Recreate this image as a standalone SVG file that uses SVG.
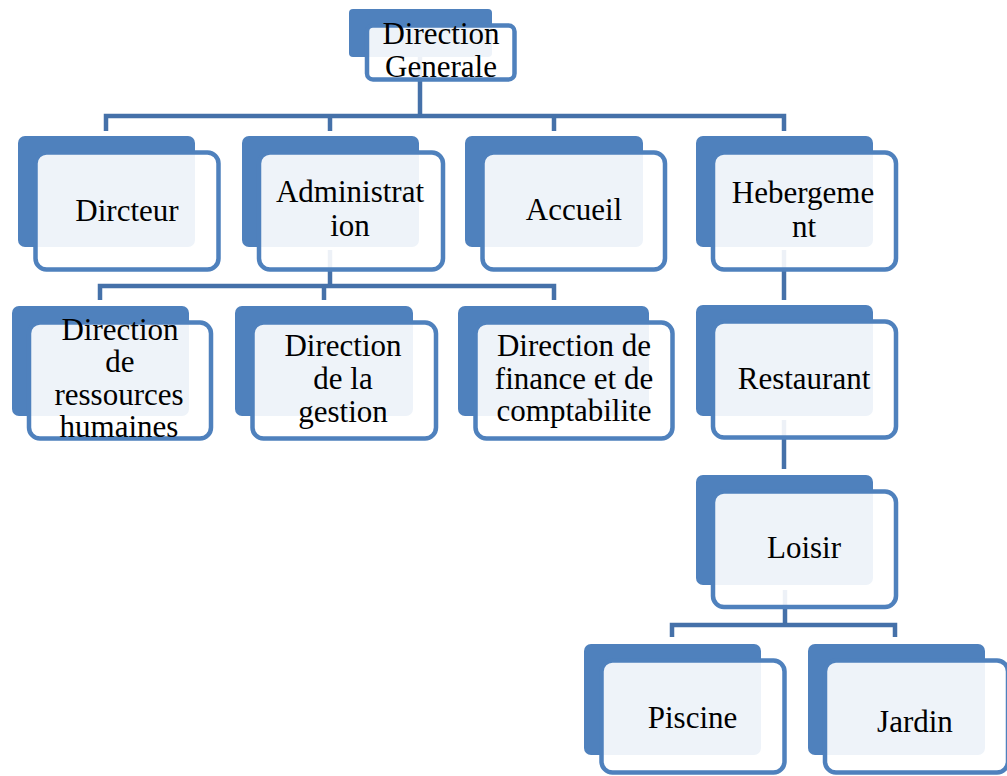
<svg xmlns="http://www.w3.org/2000/svg" width="1007" height="776" viewBox="0 0 1007 776">
<style>
.bk{fill:#4F81BD;}
.fr{fill:#FFFFFF;fill-opacity:0.9;stroke:#4F81BD;stroke-width:4.5;}
.cn{fill:none;stroke:#4571A9;stroke-width:4.5;stroke-linejoin:miter;}
.t{font-family:'Liberation Serif','DejaVu Serif',serif;font-size:31px;fill:#000;text-anchor:middle;}
</style>
<rect width="1007" height="776" fill="#FFFFFF"/>
<g id="connectors">
<path class="cn" d="M420 57 V116"/>
<path class="cn" d="M106 131 V116 H784 V131"/>
<path class="cn" d="M330 116 V131"/>
<path class="cn" d="M554 116 V131"/>
<path class="cn" d="M330 250 V286"/>
<path class="cn" d="M100 300 V286 H554 V300"/>
<path class="cn" d="M324 286 V300"/>
<path class="cn" d="M784 250 V300"/>
<path class="cn" d="M784 420 V469"/>
<path class="cn" d="M785 590 V625"/>
<path class="cn" d="M672 637 V625 H895 V637"/>
</g>
<g id="n-direction-generale">
<rect class="bk" x="349" y="9" width="143" height="48" rx="4"/>
<rect class="fr" x="367" y="25.5" width="147.5" height="54" rx="6"/>
<text class="t" x="441" y="44">Direction</text>
<text class="t" x="441" y="76.5">Generale</text>
</g>
<g id="n-dircteur">
<rect class="bk" x="18" y="136" width="177" height="111" rx="7"/>
<rect class="fr" x="35.5" y="152.5" width="183" height="117" rx="11"/>
<text class="t" x="127" y="221">Dircteur</text>
</g>
<g id="n-administration">
<rect class="bk" x="242" y="136" width="177" height="111" rx="7"/>
<rect class="fr" x="259" y="152.5" width="184" height="117" rx="11"/>
<text class="t" x="350" y="202">Administrat</text>
<text class="t" x="350" y="236">ion</text>
</g>
<g id="n-accueil">
<rect class="bk" x="465" y="136" width="178" height="111" rx="7"/>
<rect class="fr" x="482.5" y="152.5" width="182.5" height="117" rx="11"/>
<text class="t" x="574" y="220">Accueil</text>
</g>
<g id="n-hebergement">
<rect class="bk" x="696" y="136" width="177" height="111" rx="7"/>
<rect class="fr" x="713" y="152.5" width="183" height="117" rx="11"/>
<text class="t" x="803" y="203">Hebergeme</text>
<text class="t" x="804" y="237">nt</text>
</g>
<g id="n-ressources-humaines">
<rect class="bk" x="12" y="306" width="177" height="110" rx="7"/>
<rect class="fr" x="29" y="322.5" width="182" height="116" rx="11"/>
<text class="t" x="120" y="340">Direction</text>
<text class="t" x="120" y="372">de</text>
<text class="t" x="119" y="405">ressources</text>
<text class="t" x="119" y="437">humaines</text>
</g>
<g id="n-gestion">
<rect class="bk" x="235" y="306" width="178" height="110" rx="7"/>
<rect class="fr" x="252.5" y="322.5" width="183.5" height="116" rx="11"/>
<text class="t" x="343" y="356">Direction</text>
<text class="t" x="343" y="389">de la</text>
<text class="t" x="343" y="422">gestion</text>
</g>
<g id="n-finance">
<rect class="bk" x="458" y="306" width="191" height="110" rx="7"/>
<rect class="fr" x="475.5" y="322.5" width="197" height="116" rx="11"/>
<text class="t" x="574" y="356">Direction de</text>
<text class="t" x="574" y="389">finance et de</text>
<text class="t" x="574" y="421">comptabilite</text>
</g>
<g id="n-restaurant">
<rect class="bk" x="696" y="305" width="177" height="111" rx="7"/>
<rect class="fr" x="713" y="321.5" width="183" height="116" rx="11"/>
<text class="t" x="804" y="389">Restaurant</text>
</g>
<g id="n-loisir">
<rect class="bk" x="696" y="475" width="177" height="110" rx="7"/>
<rect class="fr" x="713" y="491.5" width="183" height="115.5" rx="11"/>
<text class="t" x="804" y="558">Loisir</text>
</g>
<g id="n-piscine">
<rect class="bk" x="584" y="644" width="177" height="111" rx="7"/>
<rect class="fr" x="601.5" y="660.5" width="183" height="112" rx="11"/>
<text class="t" x="692.5" y="728">Piscine</text>
</g>
<g id="n-jardin">
<rect class="bk" x="808" y="644" width="177" height="111" rx="7"/>
<rect class="fr" x="825" y="660.5" width="183" height="112" rx="11"/>
<text class="t" x="915" y="732">Jardin</text>
</g>
</svg>
